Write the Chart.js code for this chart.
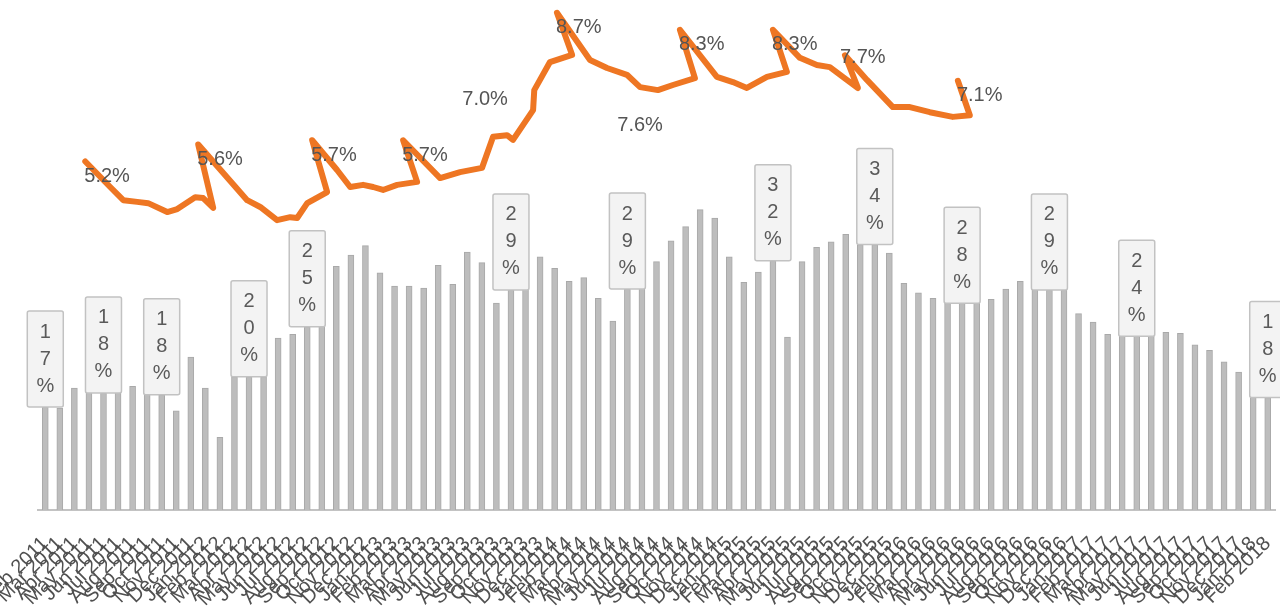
<!DOCTYPE html>
<html>
<head>
<meta charset="utf-8">
<script src="https://cdn.jsdelivr.net/npm/chart.js@4/dist/chart.umd.min.js"></script>
<style>
	html, body { margin: 0; padding: 0; background: #ffffff; }
	#wrap { width: 1280px; height: 607px; position: relative; }
</style>
</head>
<body>
<div id="wrap"><canvas id="chart"></canvas></div>
<script>

// month ticks
var months = [
	"Feb 2011", "Mar 2011", "Apr 2011", "May 2011", "Jun 2011", "Jul 2011", "Aug 2011", "Sep 2011", "Oct 2011", "Nov 2011", "Dec 2011",
	"Jan 2012", "Feb 2012", "Mar 2012", "Apr 2012", "May 2012", "Jun 2012", "Jul 2012", "Aug 2012", "Sep 2012", "Oct 2012", "Nov 2012", "Dec 2012",
	"Jan 2013", "Feb 2013", "Mar 2013", "Apr 2013", "May 2013", "Jun 2013", "Jul 2013", "Aug 2013", "Sep 2013", "Oct 2013", "Nov 2013", "Dec 2013",
	"Jan 2014", "Feb 2014", "Mar 2014", "Apr 2014", "May 2014", "Jun 2014", "Jul 2014", "Aug 2014", "Sep 2014", "Oct 2014", "Nov 2014", "Dec 2014",
	"Jan 2015", "Feb 2015", "Mar 2015", "Apr 2015", "May 2015", "Jun 2015", "Jul 2015", "Aug 2015", "Sep 2015", "Oct 2015", "Nov 2015", "Dec 2015",
	"Jan 2016", "Feb 2016", "Mar 2016", "Apr 2016", "May 2016", "Jun 2016", "Jul 2016", "Aug 2016", "Sep 2016", "Oct 2016", "Nov 2016", "Dec 2016",
	"Jan 2017", "Feb 2017", "Mar 2017", "Apr 2017", "May 2017", "Jun 2017", "Jul 2017", "Aug 2017", "Sep 2017", "Oct 2017", "Nov 2017", "Dec 2017",
	"Jan 2018", "Feb 2018"
];

// grey bars (%)
var shareValues = [
	16.9, 16.8, 18.9, 19.6, 18.4, 18.9, 19.1, 18.5, 18.2, 16.5,
	22.2, 18.9, 13.7, 20.1, 20.1, 20.1, 24.2, 24.6, 25.4, 25.9,
	31.8, 33.0, 34.0, 31.1, 29.7, 29.7, 29.5, 31.9, 29.9, 33.3,
	32.2, 27.9, 29.3, 29.4, 32.8, 31.6, 30.2, 30.6, 28.4, 26.0,
	29.4, 29.7, 32.3, 34.5, 36.0, 37.8, 36.9, 32.8, 30.1, 31.2,
	32.4, 24.3, 32.3, 33.8, 34.4, 35.2, 34.1, 34.1, 33.2, 30.0,
	29.0, 28.4, 27.9, 27.9, 28.8, 28.3, 29.4, 30.2, 29.3, 29.3,
	29.3, 26.8, 25.9, 24.6, 24.4, 24.4, 24.6, 24.8, 24.7, 23.5,
	22.9, 21.7, 20.6, 19.6, 17.9
];

// bars that carry a callout
var labelledBars = [0, 4, 8, 14, 18, 32, 40, 50, 57, 63, 69, 75, 84];

// orange line: position on the month axis and rate (%)
var lineMonth = [
	2.75, 4.46, 5.36, 6.32, 7.07, 8.38, 9.07, 10.30, 10.85, 11.54,
	10.51, 12.23, 13.87, 14.77, 15.93, 16.83, 17.31, 18.00, 19.37, 18.34,
	20.05, 20.95, 21.84, 22.53, 23.21, 24.18, 25.55, 24.59, 27.13, 28.50,
	30.01, 30.77, 31.73, 32.14, 33.52, 33.60, 34.68, 36.20, 35.16, 37.43,
	38.60, 39.97, 40.87, 42.10, 43.13, 44.64, 43.61, 46.15, 47.25, 48.21,
	49.59, 50.96, 50.00, 51.85, 53.02, 53.91, 55.08, 55.84, 54.95, 56.46,
	58.24, 59.41, 60.78, 62.36, 63.53, 62.71
];
var lineRate = [
	5.20, 4.60, 4.29, 4.25, 4.22, 4.01, 4.08, 4.36, 4.34, 4.11,
	5.60, 4.93, 4.29, 4.13, 3.82, 3.89, 3.87, 4.22, 4.48, 5.70,
	5.00, 4.60, 4.65, 4.60, 4.53, 4.65, 4.72, 5.70, 4.81, 4.95,
	5.05, 5.78, 5.82, 5.71, 6.41, 6.88, 7.54, 7.71, 8.70, 7.59,
	7.40, 7.24, 6.95, 6.88, 7.00, 7.16, 8.30, 7.19, 7.07, 6.93,
	7.19, 7.31, 8.30, 7.64, 7.47, 7.42, 7.12, 6.93, 7.70, 7.12,
	6.48, 6.48, 6.36, 6.25, 6.29, 7.10
];

// line callouts
var rateLabels = [5.2, 5.6, 5.7, 5.7, 7.0, 8.7, 7.6, 8.3, 8.3, 7.7, 7.1];
var rateLabelPoint = [0, 10, 19, 27, 31, 38, 42, 46, 52, 58, 65];
var rateLabelSide = ["right", "right", "right", "right", "above", "right", "below", "right", "right", "mid", "right"];

var FONT = "'Liberation Sans', Arial, sans-serif";

/**
 * Draws the boxed vertical % callouts on top of the bars
 */
var barCallouts = {
	id: "barCallouts",
	afterDatasetsDraw: function (chart) {
		var ctx = chart.ctx;
		var meta = chart.getDatasetMeta(1);
		var w = 36, lh = 27, pad = 7.5;

		ctx.save();
		ctx.font = "20px " + FONT;
		ctx.textAlign = "center";
		ctx.textBaseline = "middle";

		labelledBars.forEach(function (i) {
			var bar = meta.data[i];
			var chars = (Math.round(shareValues[i]) + "%").split("");
			var h = chars.length * lh + pad * 2;
			var left = bar.x - w / 2;
			var top = bar.y - h;

			ctx.fillStyle = "#f3f3f3";
			ctx.strokeStyle = "#c2c2c2";
			ctx.lineWidth = 1.5;
			ctx.beginPath();
			ctx.roundRect(left, top, w, h, 2);
			ctx.fill();
			ctx.stroke();

			ctx.fillStyle = "#5a5a5a";
			chars.forEach(function (c, k) {
				ctx.fillText(c, bar.x, top + pad + lh * (k + 0.5));
			});
		});

		ctx.restore();
	}
};

/**
 * Draws the % labels of the orange line
 */
var lineCallouts = {
	id: "lineCallouts",
	afterDatasetsDraw: function (chart) {
		var ctx = chart.ctx;
		var meta = chart.getDatasetMeta(0);

		ctx.save();
		ctx.font = "20px " + FONT;
		ctx.fillStyle = "#555555";
		ctx.textBaseline = "middle";

		rateLabels.forEach(function (v, k) {
			var pt = meta.data[rateLabelPoint[k]];
			var text = v.toFixed(1) + "%";
			var side = rateLabelSide[k];

			if (side === "above") {
				ctx.textAlign = "center";
				ctx.fillText(text, pt.x - 8, pt.y - 37);
			} else if (side === "below") {
				ctx.textAlign = "center";
				ctx.fillText(text, pt.x, pt.y + 38);
			} else if (side === "mid") {
				ctx.textAlign = "left";
				ctx.fillText(text, pt.x - 5, pt.y + 2);
			} else {
				ctx.textAlign = "left";
				ctx.fillText(text, pt.x - 1, pt.y + 15);
			}
		});

		ctx.restore();
	}
};

/**
 * Renders the chart
 */
function renderChart() {

	var linePoints = lineMonth.map(function (m, i) {
		return { x: m, y: lineRate[i] };
	});
	var barPoints = shareValues.map(function (v, i) {
		return { x: i, y: v };
	});

	new Chart(document.getElementById("chart"), {
		type: "bar",
		data: {
			datasets: [
				{
					type: "line",
					data: linePoints,
					yAxisID: "y2",
					borderColor: "#ee7623",
					borderWidth: 6,
					borderJoinStyle: "round",
					borderCapStyle: "round",
					pointRadius: 0,
					tension: 0,
					order: 0
				},
				{
					type: "bar",
					data: barPoints,
					yAxisID: "y",
					backgroundColor: "#bdbdbd",
					borderColor: "#a9a9a9",
					borderWidth: 1,
					barThickness: 6,
					order: 1
				}
			]
		},
		options: {
			responsive: true,
			maintainAspectRatio: false,
			animation: false,
			layout: { padding: { left: 38, right: 5, top: 0, bottom: 0 } },
			plugins: {
				legend: { display: false },
				tooltip: { enabled: false }
			},
			scales: {
				x: {
					type: "linear",
					min: -0.5,
					max: 84.5,
					offset: false,
					grid: { display: false },
					border: { display: true, color: "#c3c3c3", width: 2 },
					ticks: {
						autoSkip: false,
						maxRotation: 45,
						minRotation: 45,
						padding: 14,
						color: "#505050",
						font: { size: 20, family: FONT },
						callback: function (value) {
							return months[value];
						}
					},
					afterBuildTicks: function (scale) {
						scale.ticks = months.map(function (m, i) {
							return { value: i };
						});
					},
					afterFit: function (scale) {
						scale.height = 97;
						scale.paddingLeft = 0;
						scale.paddingRight = 0;
					}
				},
				y: { display: false, min: 6, max: 60 },
				y2: { display: false, min: -3, max: 9 }
			}
		},
		plugins: [barCallouts, lineCallouts]
	});

}

renderChart();

</script>
</body>
</html>
